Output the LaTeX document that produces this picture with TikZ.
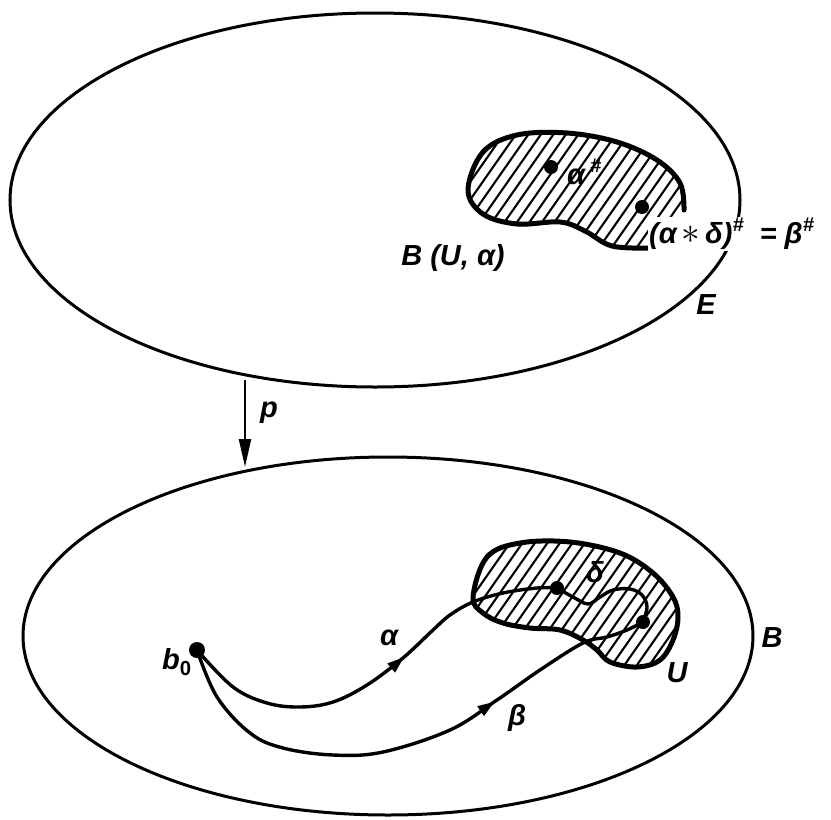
\documentclass[tikz,border=0pt]{standalone}
\usepackage{fontspec}
\setmainfont{Liberation Sans}
\usetikzlibrary{decorations.markings,arrows.meta}
\newcommand{\hsh}{\raisebox{0.42em}{\fontsize{20}{20}\selectfont\#}}
\begin{document}
\begin{tikzpicture}[x=1pt,y=-1pt,
  outer/.style={line width=3pt},
  blob/.style={line width=5pt, line join=round, line cap=round},
  hatch/.style={line width=2.1pt},
  curve/.style={line width=3.4pt, line cap=round},
  dot/.style={circle, fill=black, inner sep=0pt, minimum size=14pt},
  bigdot/.style={circle, fill=black, inner sep=0pt, minimum size=16pt},
  lbl/.style={font=\fontsize{29}{33}\selectfont\bfseries\itshape, inner sep=1pt},
  midarrow/.style={postaction={decorate}, decoration={markings,
     mark=at position #1 with {\arrow{Triangle[length=17pt,width=11pt]}}}}
]
\useasboundingbox (0,0) rectangle (831,820);

% ---------- top space E ----------
\draw[outer] (375,200) ellipse [x radius=365pt, y radius=187pt];

\def\topblob{plot[smooth cycle, tension=0.6] coordinates {(684,208) (670,236) (646,248) (612,246) (585,231) (560,222) (517,224) (483,214) (468,190) (483,152) (517,135) (567,133) (617,142) (657,160) (680,183)}}
\begin{scope}
  \clip \topblob;
  \foreach \i in {0,...,45} \draw[hatch] (250+\i*12.5,300) -- ++(210,-300);
\end{scope}
\draw[blob] plot[smooth, tension=0.6] coordinates {(650,248) (612,246) (585,231) (560,222) (517,224) (483,214) (468,190) (483,152) (517,135) (567,133) (617,142) (657,160) (680,183) (684,210)};

\node[dot] (ah) at (551,167) {};
\node[dot] (bh) at (642,207) {};
\node[lbl, anchor=west] (lah) at (566,172) {α\,\hsh};
\node[lbl, anchor=west, fill=white] (lbh) at (648,234) {(α\,\scalebox{1.5}{$\ast$}\,δ)\hsh\ \ = β\hsh};
\node[lbl] (lBU) at (453,258) {B (U, α)};
\node[lbl] (lE) at (706,305) {E};

% ---------- projection p ----------
\coordinate (ptop) at (245,380);
\coordinate (ptip) at (245,467);
\draw[line width=2.4pt, -{Triangle[length=28pt,width=12pt]}] (ptop) -- (ptip);
\node[lbl] (lp) at (269,413) {p};

% ---------- base space B ----------
\draw[outer] (388,636) ellipse [x radius=365pt, y radius=179pt];

\def\botblob{plot[smooth cycle, tension=0.6] coordinates {(473,597) (487,557) (520,543) (570,542) (620,553) (653,573) (673,597) (678,617) (673,640) (660,660) (637,667) (610,662) (597,650) (583,640) (560,630) (530,628) (503,623) (483,613)}}
\begin{scope}
  \clip \botblob;
  \foreach \i in {0,...,45} \draw[hatch] (250+\i*12.5,700) -- ++(210,-300);
\end{scope}
\draw[blob] \botblob;

\node[bigdot] (b0) at (197,650) {};
\node[dot] (d1) at (557,588) {};
\node[dot] (d2) at (643,622) {};

% alpha path
\draw[curve, midarrow=0.58] plot[smooth, tension=0.6] coordinates {(b0.center) (233,687) (267,703) (300,707) (333,702) (367,685) (403,658) (433,630) (450,615) (473,602) (503,593) (537,588) (d1.center)};
% delta path
\draw[curve] plot[smooth, tension=0.6] coordinates {(d1.center) (573,597) (588,604) (600,597) (613,590) (630,589) (642,595) (647,607) (d2.center)};
% beta path
\draw[curve, midarrow=0.68] plot[smooth, tension=0.6] coordinates {(b0.center) (217,697) (250,733) (283,748) (333,755) (383,752) (450,730) (497,700) (540,670) (583,643) (607,637) (627,630) (d2.center)};

\node[lbl] (lb0) at (177,662) {b$_{\mathbf{0}}$};
\node[lbl] (lal) at (389,638) {α};
\node[lbl] (lbe) at (517,718) {β};
\node[lbl] (lde) at (595,572) {δ};
\node[lbl] (lU) at (677,673) {U};
\node[lbl] (lB) at (772,638) {B};
\end{tikzpicture}
\end{document}
